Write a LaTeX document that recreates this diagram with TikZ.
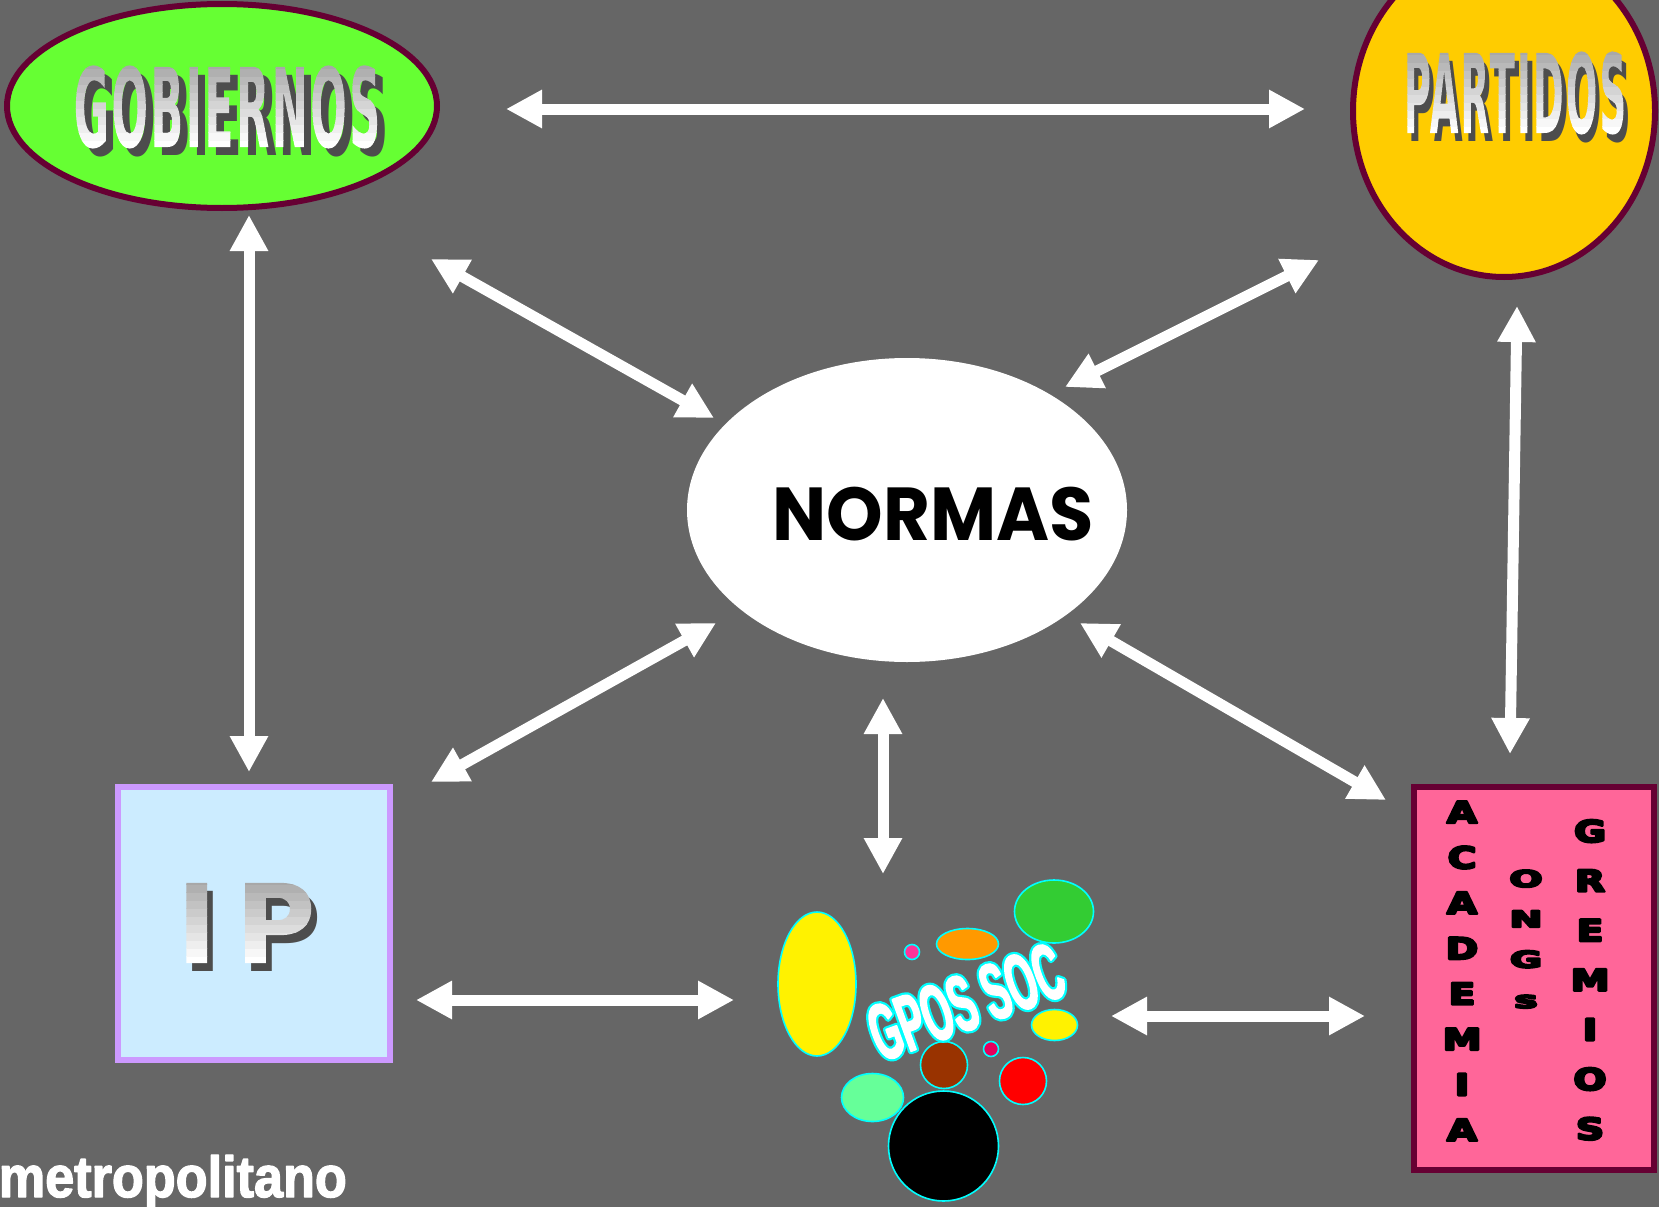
\documentclass[tikz,border=0pt]{standalone}
\usepackage{fontspec}
\usetikzlibrary{arrows.meta,shapes.geometric}
\newfontfamily\lsans{Liberation Sans}
\newfontfamily\dvsans{DejaVu Sans}
\newfontfamily\dvspaced{DejaVu Sans}[LetterSpace=6]
\newfontfamily\popp{Poppins}
\newfontfamily\gposf{Liberation Sans}[FakeStretch=0.47]
\definecolor{bgc}{HTML}{666666}
\definecolor{maroon}{HTML}{660033}
\definecolor{gobfill}{HTML}{66FF33}
\definecolor{partfill}{HTML}{FFCC00}
\definecolor{ipfill}{HTML}{CCECFF}
\definecolor{ipline}{HTML}{CC99FF}
\definecolor{acadfill}{HTML}{FF6699}
\definecolor{shadowc}{HTML}{4D4D4D}
\definecolor{blobline}{HTML}{00FFFF}
\definecolor{bpink}{HTML}{FF3399}
\definecolor{borange}{HTML}{FF9900}
\definecolor{bgreen}{HTML}{33CC33}
\definecolor{bcrim}{HTML}{E6005C}
\definecolor{bbrown}{HTML}{993300}
\definecolor{blgreen}{HTML}{66FF99}
% grey-to-white bands, drawn through the glyph outlines used as a clip
\newcommand\bands{q 1 g -20 -60 4000 67 re f 0.97 g -20 6 4000 9 re f 0.935 g -20 14 4000 9 re f 0.90 g -20 22 4000 9 re f 0.865 g -20 30 4000 9 re f 0.83 g -20 38 4000 9 re f 0.795 g -20 46 4000 9 re f 0.76 g -20 54 4000 9 re f 0.725 g -20 62 4000 9 re f 0.69 g -20 70 4000 9 re f 0.66 g -20 78 4000 150 re f Q}
\newcommand\gradfill[1]{\setbox0\hbox{#1}%
  \special{pdf:literal direct 7 Tr}\copy0\special{pdf:literal direct 0 Tr}%
  \kern-\wd0\special{pdf:literal \bands}\kern\wd0}
\newcommand\emb[2]{\special{pdf:literal direct #1 w 1 j 2 Tr}#2\special{pdf:literal direct 0 Tr}}
\newcommand\gradlabel[7]{%
  \node[name=#1-sh, anchor=base, inner sep=0pt, text=shadowc] at (#2+#4,#3+#5) {\scalebox{#7}[1]{#6}};
  \node[name=#1, anchor=base, inner sep=0pt, text=white] at (#2,#3) {\scalebox{#7}[1]{\gradfill{#6}}};
}
\newcommand\bigfont{\dvsans\bfseries\fontsize{110}{110}\selectfont}
\newcommand\bigspaced{\dvspaced\bfseries\fontsize{110}{110}\selectfont}
\newcommand\gposfont{\gposf\bfseries\fontsize{80}{80}\selectfont}
\tikzset{
  bidir/.style={white, line width=11pt,
    {Triangle[length=36pt,width=36pt]}-{Triangle[length=36pt,width=36pt]}},
  blob/.style={draw=blobline, line width=1.6pt, inner sep=0pt, ellipse},
  letter/.style={anchor=base, inner sep=0pt, text=black}
}
\begin{document}
\begin{tikzpicture}[x=1pt,y=-1pt]
\useasboundingbox (0,0) rectangle (1659,1207);
\fill[bgc] (0,0) rectangle (1659,1207);

% main shapes
\node[name=gob, ellipse, draw=maroon, line width=6pt, fill=gobfill, inner sep=0pt,
  minimum width=430pt, minimum height=204pt] at (222,106) {};
\node[name=part, ellipse, draw=maroon, line width=6pt, fill=partfill, inner sep=0pt,
  minimum width=302pt, minimum height=332pt] at (1504,111) {};
\node[name=norm, ellipse, fill=white, inner sep=0pt,
  minimum width=440pt, minimum height=304pt] at (907,510) {};
\node[name=ip, rectangle, draw=ipline, line width=6pt, fill=ipfill, inner sep=0pt,
  minimum width=272pt, minimum height=273pt] at (254,923.5) {};
\node[name=acad, rectangle, draw=maroon, line width=6pt, fill=acadfill, inner sep=0pt,
  minimum width=240pt, minimum height=383pt] at (1534,978.5) {};

% labels with gradient and shadow
\gradlabel{gobt}{227}{147}{8}{8}{\bigspaced GOBIERNOS}{0.39}
\gradlabel{partt}{1515}{133}{5}{8}{\bigspaced PARTIDOS}{0.336}
\gradlabel{ipt}{246}{963}{6}{8}{\bigfont I\kern18pt P}{1}

\node[name=normt, anchor=base, inner sep=0pt, text=black] at (933,540)
  {\popp\bfseries\fontsize{75}{75}\selectfont\scalebox{0.96}[1]{NORMAS}};

% vertical letters
\foreach \l [count=\i from 0] in {A,C,A,D,E,M,I,A}
  \node[letter, name=ac\i] at (1462,823+45.4*\i) {\dvsans\bfseries\fontsize{30}{30}\selectfont\scalebox{1.3}[1]{\emb{2.2}{\l}}};
\foreach \l [count=\i from 0] in {O,N,G,s}
  \node[letter, name=on\i] at (1526,887+40.3*\i) {\dvsans\bfseries\fontsize{23}{23}\selectfont\scalebox{1.7}[1]{\emb{1.8}{\l}}};
\foreach \l [count=\i from 0] in {G,R,E,M,I,O,S}
  \node[letter, name=gr\i] at (1590,842+49.6*\i) {\dvsans\bfseries\fontsize{30}{30}\selectfont\scalebox{1.3}[1]{\emb{2.2}{\l}}};

% GPOS SOC cluster
\node[blob, name=b1, fill=yellow, minimum width=78pt, minimum height=144pt] at (817,984) {};
\node[blob, name=b2, fill=bpink, minimum width=15pt, minimum height=15pt] at (912,952) {};
\node[blob, name=b3, fill=borange, minimum width=62pt, minimum height=31pt] at (967.5,944) {};
\node[blob, name=b4, fill=bgreen, minimum width=79pt, minimum height=63pt] at (1054,911.5) {};
\node[blob, name=b5, fill=yellow, minimum width=46pt, minimum height=31pt] at (1054.5,1025) {};
\node[blob, name=b6, fill=bcrim, minimum width=15pt, minimum height=15pt] at (991,1049) {};
\node[blob, name=b7, fill=bbrown, minimum width=47pt, minimum height=47pt] at (944,1065) {};
\node[blob, name=b8, fill=red, minimum width=47pt, minimum height=47pt] at (1023,1081) {};
\node[blob, name=b9, fill=blgreen, minimum width=62pt, minimum height=48pt] at (872.5,1097.5) {};
\node[blob, name=b10, fill=black, minimum width=110pt, minimum height=110pt] at (943.5,1146) {};

\node[name=gposo, rotate=20, inner sep=0pt, text=blobline] at (966,1002) {\gposfont\emb{6}{GPOS SOC}};
\node[name=gpos, rotate=20, inner sep=0pt, text=white] at (966,1002) {\gposfont\emb{1.5}{GPOS SOC}};

% footer text
\node[name=metro, anchor=base east, inner sep=0pt, text=white] at (347,1197)
  {\lsans\bfseries\fontsize{58}{58}\selectfont\scalebox{0.9}[1]{\emb{1.4}{metropolitano}}};

% connector end points
\coordinate (a1s) at (506,109);  \coordinate (a1e) at (1305,109);
\coordinate (a2s) at (249,215);  \coordinate (a2e) at (249,772);
\coordinate (a3s) at (431,259);  \coordinate (a3e) at (714,418);
\coordinate (a4s) at (1319,260); \coordinate (a4e) at (1065,387);
\coordinate (a5s) at (1517,306); \coordinate (a5e) at (1510,754);
\coordinate (a6s) at (716,623);  \coordinate (a6e) at (431,782);
\coordinate (a7s) at (1080,623); \coordinate (a7e) at (1386,800);
\coordinate (a8s) at (883,698);  \coordinate (a8e) at (883,874);
\coordinate (a9s) at (416,1000); \coordinate (a9e) at (734,1000);
\coordinate (a10s) at (1111,1016); \coordinate (a10e) at (1365,1016);

\foreach \n in {1,...,10}
  \draw[bidir] (a\n s) -- (a\n e);
\end{tikzpicture}
\end{document}
